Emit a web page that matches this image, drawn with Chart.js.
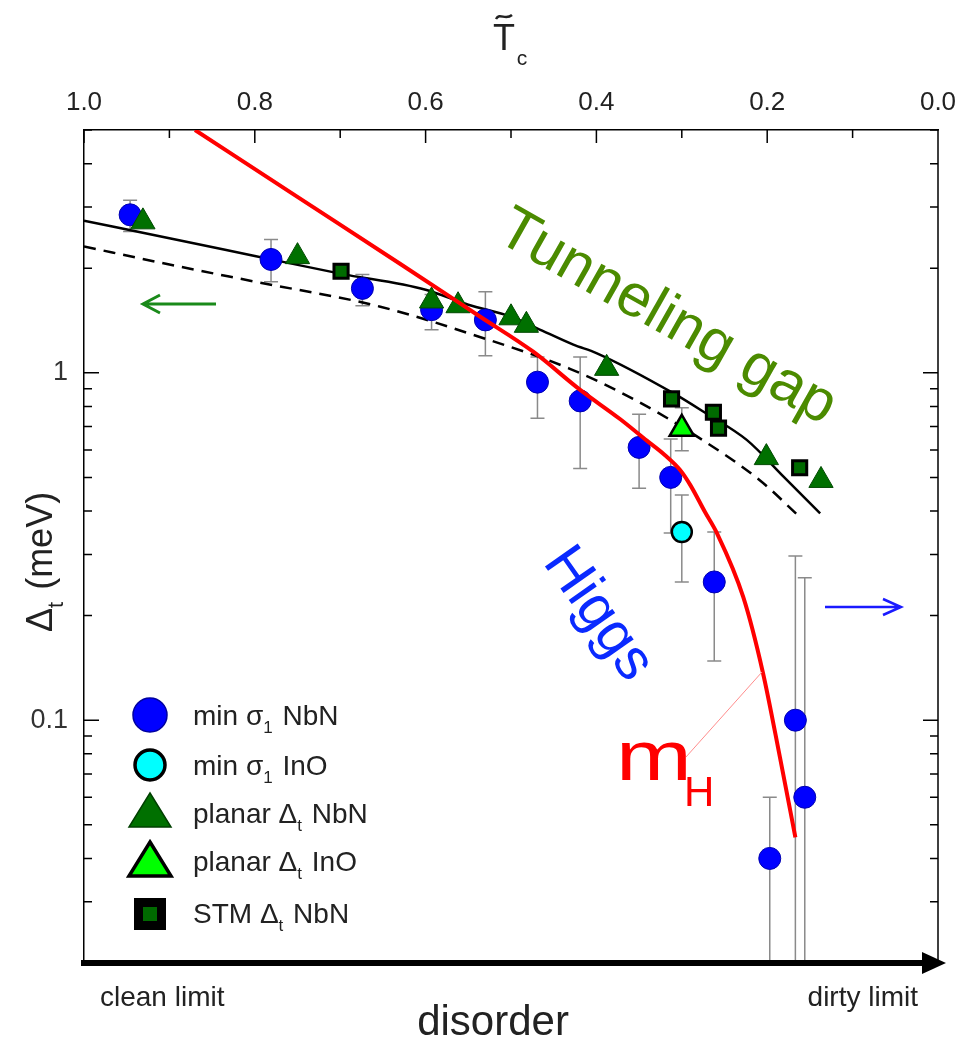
<!DOCTYPE html>
<html>
<head>
<meta charset="utf-8">
<script src="https://cdn.jsdelivr.net/npm/chart.js@4.4.1/dist/chart.umd.min.js"></script>
<style>
  html, body { margin: 0; padding: 0; background: #fff; }
</style>
</head>
<body>
<canvas id="chart" width="963" height="1041"></canvas>
<script>
// labelled ticks
const tcTicks = [1.0, 0.8, 0.6, 0.4, 0.2, 0.0];
const gapTicks = [0.1, 1];

// min sigma1, NbN (with error bars; null low = bar runs off the axis)
const sigNbnX = [0.946, 0.781, 0.674, 0.593, 0.530, 0.469, 0.419, 0.350, 0.313, 0.262, 0.197, 0.167, 0.156];
const sigNbnY = [2.85, 2.12, 1.75, 1.52, 1.42, 0.94, 0.83, 0.61, 0.50, 0.25, 0.040, 0.100, 0.060];
const sigNbnLo = [2.55, 1.83, 1.56, 1.33, 1.12, 0.74, 0.53, 0.465, 0.346, 0.148, null, null, null];
const sigNbnHi = [3.14, 2.42, 1.92, 1.68, 1.71, 1.11, 1.11, 0.76, 0.645, 0.348, 0.060, 0.297, 0.257];

// min sigma1, InO
const sigInoX = [0.300];
const sigInoY = [0.348];
const sigInoLo = [0.25];
const sigInoHi = [0.445];

// planar tunneling gap, NbN
const planNbnX = [0.931, 0.750, 0.593, 0.562, 0.500, 0.482, 0.388, 0.201, 0.137];
const planNbnY = [2.72, 2.16, 1.61, 1.56, 1.44, 1.37, 1.03, 0.57, 0.49];

// planar tunneling gap, InO
const planInoX = [0.300];
const planInoY = [0.69];
const planInoLo = [0.597];
const planInoHi = [0.793];

// STM gap, NbN
const stmX = [0.699, 0.312, 0.263, 0.257, 0.162];
const stmY = [1.96, 0.841, 0.770, 0.693, 0.533];

// theory curves
const solidX = [1.0, 0.9, 0.8, 0.7, 0.6, 0.55, 0.5, 0.47, 0.427, 0.40, 0.31, 0.27, 0.224, 0.18, 0.138];
const solidY = [2.74, 2.44, 2.17, 1.93, 1.735, 1.57, 1.45, 1.345, 1.205, 1.14, 0.874, 0.76, 0.641, 0.50, 0.394];
const dashX = [1.0, 0.9, 0.8, 0.653, 0.5445, 0.431, 0.355, 0.281, 0.208, 0.162];
const dashY = [2.31, 2.05, 1.83, 1.55, 1.287, 1.027, 0.836, 0.653, 0.489, 0.385];
const mhX = [0.870, 0.751, 0.630, 0.536, 0.474, 0.419, 0.372, 0.341, 0.320, 0.302, 0.290, 0.273, 0.259, 0.228, 0.205, 0.185, 0.167];
const mhY = [5.0, 3.22, 2.06, 1.45, 1.15, 0.893, 0.735, 0.638, 0.580, 0.525, 0.475, 0.398, 0.346, 0.226, 0.137, 0.078, 0.046];

const FONT = "'Liberation Sans', Arial, Helvetica, sans-serif";
const pts = (xs, ys) => xs.map((x, i) => ({ x: x, y: ys[i] }));

const errorSets = [
  { xs: sigNbnX, lo: sigNbnLo, hi: sigNbnHi },
  { xs: sigInoX, lo: sigInoLo, hi: sigInoHi },
  { xs: planInoX, lo: planInoLo, hi: planInoHi }
];

function drawText(ctx, parts, x, y, size, color) {
  // parts: [text, isSub]
  let cx = x;
  ctx.fillStyle = color;
  ctx.textBaseline = 'alphabetic';
  ctx.textAlign = 'left';
  parts.forEach(p => {
    const sub = p[1];
    ctx.font = (sub ? Math.round(size * 0.6) : size) + 'px ' + FONT;
    ctx.fillText(p[0], cx, sub ? y + size * 0.3 : y);
    cx += ctx.measureText(p[0]).width + (sub ? 2 : 0);
  });
  return cx - x;
}

const decor = {
  id: 'decor',
  beforeDatasetsDraw(chart) {
    const { ctx, chartArea: a, scales: { x, y } } = chart;
    ctx.save();
    ctx.beginPath();
    ctx.rect(a.left, a.top, a.right - a.left, a.bottom - a.top);
    ctx.clip();
    ctx.strokeStyle = '#8a8a8a';
    ctx.lineWidth = 1.5;
    errorSets.forEach(s => {
      s.xs.forEach((xv, i) => {
        const px = x.getPixelForValue(xv);
        const top = y.getPixelForValue(s.hi[i]);
        const bot = s.lo[i] == null ? a.bottom + 5 : y.getPixelForValue(s.lo[i]);
        ctx.beginPath();
        ctx.moveTo(px, top); ctx.lineTo(px, bot);
        ctx.moveTo(px - 7, top); ctx.lineTo(px + 7, top);
        if (s.lo[i] != null) { ctx.moveTo(px - 7, bot); ctx.lineTo(px + 7, bot); }
        ctx.stroke();
      });
    });
    ctx.restore();
  },
  afterDraw(chart) {
    const { ctx, chartArea: a, scales: { x, y } } = chart;
    ctx.save();

    // inward ticks
    ctx.strokeStyle = '#000';
    ctx.lineWidth = 1.5;
    ctx.beginPath();
    for (const dec of [0.01, 0.1, 1]) {
      for (let k = 1; k <= 9; k++) {
        const v = k * dec;
        if (v < 0.0201 || v > 5.01) continue;
        const py = y.getPixelForValue(v);
        const len = k === 1 ? 15 : 8;
        ctx.moveTo(a.left, py); ctx.lineTo(a.left + len, py);
        ctx.moveTo(a.right, py); ctx.lineTo(a.right - len, py);
      }
    }
    for (let k = 0; k <= 10; k++) {
      const px = x.getPixelForValue(k / 10);
      ctx.moveTo(px, a.top); ctx.lineTo(px, a.top + (k % 2 === 0 ? 13 : 8));
    }
    // right frame
    ctx.moveTo(a.right, a.top); ctx.lineTo(a.right, a.bottom);
    ctx.stroke();

    // thick disorder arrow along the bottom
    ctx.lineWidth = 6;
    ctx.beginPath();
    ctx.moveTo(a.left - 3, a.bottom); ctx.lineTo(a.right - 12, a.bottom);
    ctx.stroke();
    ctx.fillStyle = '#000';
    ctx.beginPath();
    ctx.moveTo(a.right - 16, a.bottom - 11);
    ctx.lineTo(a.right + 8, a.bottom);
    ctx.lineTo(a.right - 16, a.bottom + 11);
    ctx.closePath();
    ctx.fill();

    // bottom labels
    ctx.fillStyle = '#222';
    ctx.textBaseline = 'alphabetic';
    ctx.font = '28px ' + FONT;
    ctx.textAlign = 'left';
    ctx.fillText('clean limit', 100, 1006);
    ctx.textAlign = 'right';
    ctx.fillText('dirty limit', 918, 1006);
    ctx.textAlign = 'center';
    ctx.font = '42px ' + FONT;
    ctx.fillText('disorder', 493, 1035);

    // top axis title  T~c
    ctx.font = '36px ' + FONT;
    ctx.textAlign = 'center';
    ctx.fillText('T', 504, 50);
    ctx.lineWidth = 2.5;
    ctx.strokeStyle = '#222';
    ctx.beginPath();
    ctx.moveTo(496, 19);
    ctx.bezierCurveTo(500, 12, 505, 21, 512, 15);
    ctx.stroke();
    ctx.font = '21px ' + FONT;
    ctx.fillText('c', 522, 65);

    // left axis title
    ctx.save();
    ctx.translate(52, 560);
    ctx.rotate(-Math.PI / 2);
    ctx.font = '36px ' + FONT;
    const w = ctx.measureText('Δ (meV)').width + 12;
    drawText(ctx, [['Δ', false], ['t', true], [' (meV)', false]], -w / 2, 0, 36, '#222');
    ctx.restore();

    // curve annotations
    ctx.save();
    ctx.translate(667, 318);
    ctx.rotate(29.5 * Math.PI / 180);
    ctx.font = '60px ' + FONT;
    ctx.textAlign = 'center';
    ctx.textBaseline = 'middle';
    ctx.fillStyle = '#4b8b00';
    ctx.fillText('Tunneling gap', 0, 0);
    ctx.restore();

    ctx.save();
    ctx.translate(598, 614);
    ctx.rotate(55 * Math.PI / 180);
    ctx.font = '58px ' + FONT;
    ctx.textAlign = 'center';
    ctx.textBaseline = 'middle';
    ctx.fillStyle = '#0a2aff';
    ctx.fillText('Higgs', 0, 0);
    ctx.restore();

    ctx.save();
    ctx.fillStyle = '#ff0000';
    ctx.textAlign = 'left';
    ctx.textBaseline = 'alphabetic';
    ctx.translate(616, 780);
    ctx.scale(1.3, 1);
    ctx.font = '70px ' + FONT;
    ctx.fillText('m', 0, 0);
    ctx.restore();
    ctx.fillStyle = '#ff0000';
    ctx.textAlign = 'left';
    ctx.textBaseline = 'alphabetic';
    ctx.font = '42px ' + FONT;
    ctx.fillText('H', 684, 806);
    ctx.strokeStyle = '#ff8c8c';
    ctx.lineWidth = 1;
    ctx.beginPath();
    ctx.moveTo(686, 757); ctx.lineTo(762, 672);
    ctx.stroke();

    // axis-direction arrows
    ctx.strokeStyle = '#1a8a1a';
    ctx.lineWidth = 3;
    ctx.beginPath();
    ctx.moveTo(216, 304); ctx.lineTo(143, 304);
    ctx.moveTo(160, 295); ctx.lineTo(143, 304); ctx.lineTo(160, 313);
    ctx.stroke();
    ctx.strokeStyle = '#1a1aff';
    ctx.lineWidth = 2.5;
    ctx.beginPath();
    ctx.moveTo(825, 607); ctx.lineTo(901, 607);
    ctx.moveTo(883, 599); ctx.lineTo(901, 607); ctx.lineTo(883, 615);
    ctx.stroke();

    // legend
    const lx = 150;
    ctx.lineWidth = 1.5;
    ctx.fillStyle = '#0000ff'; ctx.strokeStyle = '#0000a0';
    ctx.beginPath(); ctx.arc(lx, 715, 17, 0, Math.PI * 2); ctx.fill(); ctx.stroke();
    ctx.lineWidth = 3.5;
    ctx.fillStyle = '#00ffff'; ctx.strokeStyle = '#000';
    ctx.beginPath(); ctx.arc(lx, 765, 15, 0, Math.PI * 2); ctx.fill(); ctx.stroke();
    const tri = (cy, fill, stroke, lw) => {
      ctx.fillStyle = fill; ctx.strokeStyle = stroke; ctx.lineWidth = lw;
      ctx.beginPath();
      ctx.moveTo(lx, cy - 18); ctx.lineTo(lx + 21, cy + 16); ctx.lineTo(lx - 21, cy + 16);
      ctx.closePath(); ctx.fill(); ctx.stroke();
    };
    tri(811, '#007000', '#004000', 1.5);
    tri(860, '#00ff00', '#000', 3.5);
    ctx.fillStyle = '#000';
    ctx.fillRect(lx - 16, 898, 32, 32);
    ctx.fillStyle = '#006a00';
    ctx.fillRect(lx - 7, 907, 14, 14);

    const rows = [
      [715, [['min σ', false], ['1', true], [' NbN', false]]],
      [765, [['min σ', false], ['1', true], [' InO', false]]],
      [813, [['planar Δ', false], ['t', true], [' NbN', false]]],
      [861, [['planar Δ', false], ['t', true], [' InO', false]]],
      [913, [['STM Δ', false], ['t', true], [' NbN', false]]]
    ];
    rows.forEach(r => drawText(ctx, r[1], 193, r[0] + 10, 28, '#222'));

    ctx.restore();
  }
};

const ctx = document.getElementById('chart').getContext('2d');
new Chart(ctx, {
  type: 'scatter',
  data: {
    datasets: [
      { label: 'mH', data: pts(mhX, mhY), showLine: true, borderColor: '#ff0000', borderWidth: 4,
        pointRadius: 0, cubicInterpolationMode: 'monotone', fill: false },
      { label: 'planar Δt InO', data: pts(planInoX, planInoY), pointStyle: 'triangle', pointRadius: 14,
        backgroundColor: '#00ff00', borderColor: '#000', borderWidth: 2.5 },
      { label: 'STM Δt NbN', data: pts(stmX, stmY), pointStyle: 'rect', pointRadius: 10,
        backgroundColor: '#006a00', borderColor: '#000', borderWidth: 3 },
      { label: 'min σ1 InO', data: pts(sigInoX, sigInoY), pointStyle: 'circle', pointRadius: 10,
        backgroundColor: '#00ffff', borderColor: '#000', borderWidth: 2.5 },
      { label: 'planar Δt NbN', data: pts(planNbnX, planNbnY), pointStyle: 'triangle', pointRadius: 14,
        backgroundColor: '#007000', borderColor: '#004a00', borderWidth: 1 },
      { label: 'min σ1 NbN', data: pts(sigNbnX, sigNbnY), pointStyle: 'circle', pointRadius: 11,
        backgroundColor: '#0000ff', borderColor: '#0000b0', borderWidth: 1 },
      { label: 'gap', data: pts(solidX, solidY), showLine: true, borderColor: '#000', borderWidth: 2.5,
        pointRadius: 0, cubicInterpolationMode: 'monotone', fill: false },
      { label: 'gap dashed', data: pts(dashX, dashY), showLine: true, borderColor: '#000', borderWidth: 2.5,
        borderDash: [12, 8], pointRadius: 0, cubicInterpolationMode: 'monotone', fill: false }
    ]
  },
  options: {
    responsive: false,
    animation: false,
    layout: { padding: { left: 0, top: 0, right: 25, bottom: 78 } },
    plugins: { legend: { display: false }, tooltip: { enabled: false } },
    scales: {
      x: {
        type: 'linear', position: 'top', reverse: true, min: 0, max: 1,
        afterBuildTicks: s => { s.ticks = tcTicks.map(v => ({ value: v })); },
        afterFit: s => { s.height = 130; s.paddingLeft = 0; s.paddingRight = 0; },
        ticks: { callback: v => v.toFixed(1), font: { family: FONT, size: 26 }, color: '#222',
                 padding: 12, maxRotation: 0, autoSkip: false },
        grid: { display: true, drawOnChartArea: false, drawTicks: false },
        border: { color: '#000', width: 1.5 }
      },
      y: {
        type: 'logarithmic', min: 0.02, max: 5,
        afterBuildTicks: s => { s.ticks = gapTicks.map(v => ({ value: v })); },
        afterFit: s => { s.width = 84; s.paddingTop = 0; s.paddingBottom = 0; },
        ticks: { callback: v => String(v), font: { family: FONT, size: 27 }, color: '#333', padding: 16 },
        grid: { display: true, drawOnChartArea: false, drawTicks: false },
        border: { color: '#000', width: 1.5 }
      }
    }
  },
  plugins: [decor]
});
</script>
</body>
</html>
